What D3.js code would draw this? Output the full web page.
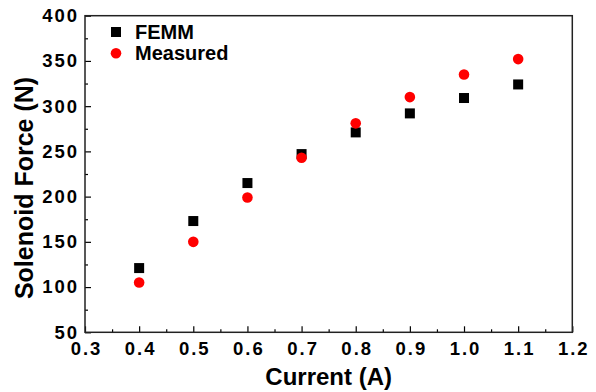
<!DOCTYPE html>
<html>
<head>
<meta charset="utf-8">
<script src="https://cdn.jsdelivr.net/npm/d3@7"></script>
<style>
  body { margin: 0; background: #fff; }
  svg { font-family: "Liberation Sans", Arial, sans-serif; font-weight: bold; }
  .tick text { letter-spacing: 2px; font-weight: bold; }
</style>
</head>
<body>
<svg id="chart" width="596" height="392"></svg>
<script>
// data
var current = [0.4, 0.5, 0.6, 0.7, 0.8, 0.9, 1.0, 1.1];
var femm = [121, 173, 215, 247, 271, 292, 309, 324];
var measured = [105, 150, 199, 243, 281, 310, 335, 352];
var xTicks = [0.3, 0.4, 0.5, 0.6, 0.7, 0.8, 0.9, 1.0, 1.1, 1.2];
var yTicks = [50, 100, 150, 200, 250, 300, 350, 400];

var svg = d3.select('#chart');
var plot = { left: 85, right: 572.3, top: 15.7, bottom: 332.3 };

var x = d3.scaleLinear().domain([0.3, 1.2]).range([plot.left, plot.right]);
var y = d3.scaleLinear().domain([50, 400]).range([plot.bottom, plot.top]);

// minor ticks halfway between majors
var xMinor = d3.range(0.35, 1.2, 0.1);
var yMinor = d3.range(75, 400, 50);

svg.append('g')
	.attr('transform', 'translate(0,' + plot.bottom + ')')
	.call(d3.axisBottom(x).tickValues(xMinor).tickSizeInner(-3).tickSizeOuter(0).tickFormat(''))
	.call(function(g) { g.select('.domain').remove(); })
	.selectAll('line').attr('stroke', '#000').attr('stroke-width', 1.2);

svg.append('g')
	.attr('transform', 'translate(' + plot.left + ',0)')
	.call(d3.axisLeft(y).tickValues(yMinor).tickSizeInner(-3).tickSizeOuter(0).tickFormat(''))
	.call(function(g) { g.select('.domain').remove(); })
	.selectAll('line').attr('stroke', '#000').attr('stroke-width', 1.2);

var xAxis = svg.append('g')
	.attr('transform', 'translate(0,' + plot.bottom + ')')
	.call(d3.axisBottom(x).tickValues(xTicks).tickSizeInner(-6).tickSizeOuter(0).tickPadding(10).tickFormat(d3.format('.1f')))
	.attr('font-family', null).attr('font-size', null);
xAxis.select('.domain').remove();
xAxis.selectAll('line').attr('stroke', '#000').attr('stroke-width', 1.2);
xAxis.selectAll('text').attr('font-size', 18.5).attr('fill', '#000').attr('dx', 1);

var yAxis = svg.append('g')
	.attr('transform', 'translate(' + plot.left + ',0)')
	.call(d3.axisLeft(y).tickValues(yTicks).tickSizeInner(-6).tickSizeOuter(0).tickPadding(6).tickFormat(d3.format('d')))
	.attr('font-family', null).attr('font-size', null);
yAxis.select('.domain').remove();
yAxis.selectAll('line').attr('stroke', '#000').attr('stroke-width', 1.2);
yAxis.selectAll('text').attr('font-size', 18.5).attr('fill', '#000');

// frame
svg.append('rect')
	.attr('x', plot.left).attr('y', plot.top)
	.attr('width', plot.right - plot.left).attr('height', plot.bottom - plot.top)
	.attr('fill', 'none').attr('stroke', '#222').attr('stroke-width', 1.5);

// axis titles
svg.append('text')
	.attr('x', (plot.left + plot.right) / 2).attr('y', 385)
	.attr('text-anchor', 'middle').attr('font-size', 24)
	.text('Current (A)');

svg.append('text')
	.attr('transform', 'translate(33,188) rotate(-90)')
	.attr('text-anchor', 'middle').attr('font-size', 25)
	.text('Solenoid Force (N)');

// points
var pts = current.map(function(c, i) { return { x: c, f: femm[i], m: measured[i] }; });

svg.append('g').selectAll('rect')
	.data(pts).enter().append('rect')
	.attr('x', function(d) { return x(d.x) - 5; })
	.attr('y', function(d) { return y(d.f) - 5; })
	.attr('width', 10).attr('height', 10)
	.attr('fill', '#000');

svg.append('g').selectAll('circle')
	.data(pts).enter().append('circle')
	.attr('cx', function(d) { return x(d.x); })
	.attr('cy', function(d) { return y(d.m); })
	.attr('r', 5.3)
	.attr('fill', '#ff0000');

// legend
var legend = svg.append('g').attr('transform', 'translate(116,0)');
legend.append('rect').attr('x', -5).attr('y', 27).attr('width', 10).attr('height', 10).attr('fill', '#000');
legend.append('circle').attr('cx', 0).attr('cy', 53.3).attr('r', 5.3).attr('fill', '#ff0000');
legend.append('text').attr('x', 19).attr('y', 39.3).attr('font-size', 20).text('FEMM');
legend.append('text').attr('x', 19).attr('y', 59.5).attr('font-size', 20).text('Measured');
</script>
</body>
</html>
